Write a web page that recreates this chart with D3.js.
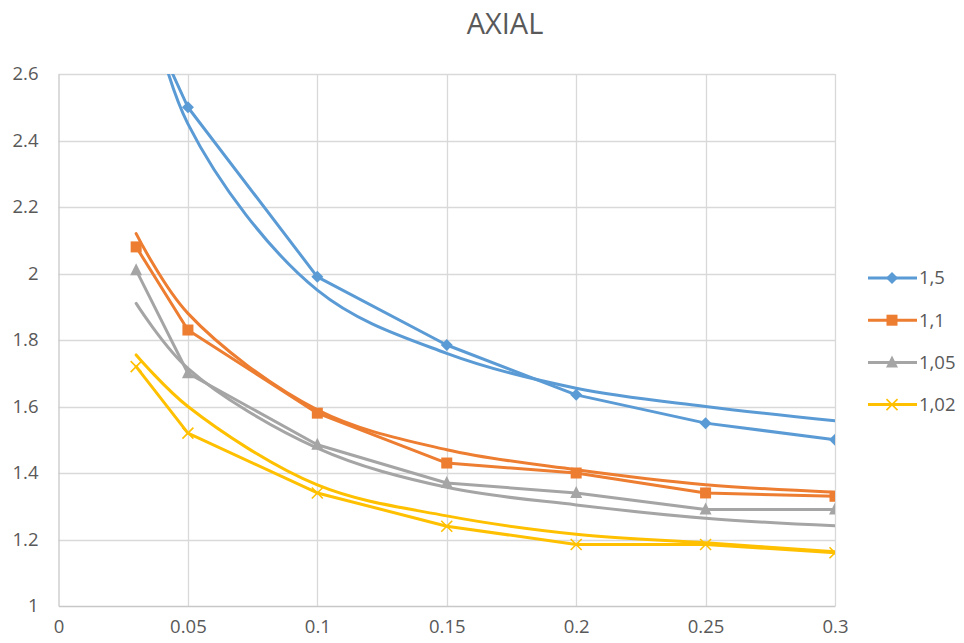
<!DOCTYPE html>
<html>
<head>
<meta charset="utf-8">
<script src="https://cdn.jsdelivr.net/npm/d3@7"></script>
<style>
  html, body { margin: 0; padding: 0; background: #fff; }
  svg { display: block; }
  text { font-family: "Open Sans", "Noto Sans", sans-serif; fill: #595959; }
</style>
</head>
<body>
<svg id="chart" width="964" height="643"></svg>
<script>
// Ratios measured at each abscissa
const xValues = [0.03, 0.05, 0.1, 0.15, 0.2, 0.25, 0.3];

// Measured series (with markers)
const series15  = [2.84, 2.50, 1.99, 1.785, 1.635, 1.55, 1.50];
const series11  = [2.08, 1.83, 1.58, 1.43, 1.40, 1.34, 1.33];
const series105 = [2.01, 1.70, 1.485, 1.37, 1.34, 1.29, 1.29];
const series102 = [1.72, 1.52, 1.34, 1.24, 1.185, 1.185, 1.16];

// Smoothed fitted curves (no markers)
const fit15  = [3.00, 2.45, 1.95, 1.76, 1.655, 1.60, 1.557];
const fit11  = [2.12, 1.88, 1.59, 1.47, 1.41, 1.365, 1.342];
const fit105 = [1.91, 1.715, 1.475, 1.357, 1.304, 1.264, 1.241];
const fit102 = [1.755, 1.60, 1.364, 1.271, 1.216, 1.19, 1.163];

const seriesNames = ["1,5", "1,1", "1,05", "1,02"];
const seriesColors = ["#5B9BD5", "#ED7D31", "#A5A5A5", "#FFC000"];
const seriesShapes = ["diamond", "square", "triangle", "cross"];
const measured = [series15, series11, series105, series102];
const fitted = [fit15, fit11, fit105, fit102];

const xTicks = [0, 0.05, 0.1, 0.15, 0.2, 0.25, 0.3];
const xTickLabels = ["0", "0.05", "0.1", "0.15", "0.2", "0.25", "0.3"];
const yTicks = [1, 1.2, 1.4, 1.6, 1.8, 2, 2.2, 2.4, 2.6];
const yTickLabels = ["1", "1.2", "1.4", "1.6", "1.8", "2", "2.2", "2.4", "2.6"];

const svg = d3.select("#chart");
const plot = { left: 58.5, right: 835, top: 74, bottom: 606 };

const x = d3.scaleLinear().domain([0, 0.3]).range([plot.left, plot.right]);
const y = d3.scaleLinear().domain([1, 2.6]).range([plot.bottom, plot.top]);

svg.append("rect").attr("width", 964).attr("height", 643).attr("fill", "#fff");

// Title
svg.append("text")
  .attr("x", 505).attr("y", 34)
  .attr("text-anchor", "middle")
  .style("font-size", "29px")
  .text("AXIAL");

// Gridlines
const grid = svg.append("g");
grid.selectAll("line.h").data(yTicks.slice(1)).join("line")
  .attr("x1", plot.left).attr("x2", plot.right)
  .attr("y1", d => Math.round(y(d)) + 0.5).attr("y2", d => Math.round(y(d)) + 0.5)
  .attr("stroke", "#D9D9D9").attr("stroke-width", 1.3);
grid.selectAll("line.v").data(xTicks.slice(1)).join("line")
  .attr("y1", plot.top).attr("y2", plot.bottom)
  .attr("x1", d => Math.round(x(d)) + 0.5).attr("x2", d => Math.round(x(d)) + 0.5)
  .attr("stroke", "#D9D9D9").attr("stroke-width", 1.3);

// Axes
const xAxis = d3.axisBottom(x).tickValues(xTicks)
  .tickFormat((d, i) => xTickLabels[i]).tickSize(0).tickPadding(14);
const yAxis = d3.axisLeft(y).tickValues(yTicks)
  .tickFormat((d, i) => yTickLabels[i]).tickSize(0).tickPadding(20);

const gx = svg.append("g").attr("transform", `translate(0,${plot.bottom})`).call(xAxis);
const gy = svg.append("g").attr("transform", `translate(${plot.left},0)`).call(yAxis);
[gx, gy].forEach(g => {
  g.select(".domain").attr("stroke", "#C8C8C8").attr("stroke-width", 1.3);
  g.selectAll("text").style("font-size", "18.5px").attr("fill", "#595959")
    .style("font-family", '"Open Sans", sans-serif');
});

// Clip to plot area
svg.append("defs").append("clipPath").attr("id", "plotClip")
  .append("rect")
  .attr("x", plot.left).attr("y", plot.top)
  .attr("width", plot.right - plot.left).attr("height", plot.bottom - plot.top);

const lines = svg.append("g").attr("clip-path", "url(#plotClip)");

const straight = d3.line().x(d => x(d[0])).y(d => y(d[1]));
const smooth = d3.line().x(d => x(d[0])).y(d => y(d[1])).curve(d3.curveCatmullRom.alpha(0.5));

fitted.forEach((vals, i) => {
  lines.append("path")
    .datum(xValues.map((xv, j) => [xv, vals[j]]))
    .attr("d", smooth)
    .attr("fill", "none")
    .attr("stroke", seriesColors[i])
    .attr("stroke-width", 3)
    .attr("stroke-linecap", "round");
});

function drawMarker(g, shape, cx, cy, color) {
  if (shape === "diamond") {
    const r = 6;
    g.append("path").attr("d", `M${cx},${cy - r}L${cx + r},${cy}L${cx},${cy + r}L${cx - r},${cy}Z`)
      .attr("fill", color);
  } else if (shape === "square") {
    const s = 11;
    g.append("rect").attr("x", cx - s / 2).attr("y", cy - s / 2).attr("width", s).attr("height", s)
      .attr("fill", color);
  } else if (shape === "triangle") {
    const s = 12;
    g.append("path").attr("d", `M${cx},${cy - s * 0.58}L${cx + s / 2},${cy + s * 0.42}L${cx - s / 2},${cy + s * 0.42}Z`)
      .attr("fill", color);
  } else if (shape === "cross") {
    const r = 5.5;
    g.append("path").attr("d", `M${cx - r},${cy - r}L${cx + r},${cy + r}M${cx - r},${cy + r}L${cx + r},${cy - r}`)
      .attr("stroke", color).attr("stroke-width", 1.6).attr("fill", "none");
  }
}

measured.forEach((vals, i) => {
  const pts = xValues.map((xv, j) => [xv, vals[j]]);
  lines.append("path")
    .datum(pts)
    .attr("d", straight)
    .attr("fill", "none")
    .attr("stroke", seriesColors[i])
    .attr("stroke-width", 3)
    .attr("stroke-linejoin", "round")
    .attr("stroke-linecap", "round");
  const mg = lines.append("g");
  pts.forEach(p => drawMarker(mg, seriesShapes[i], x(p[0]), y(p[1]), seriesColors[i]));
});

// Legend
const legend = svg.append("g");
seriesNames.forEach((name, i) => {
  const ly = 278 + i * 42.2;
  legend.append("line")
    .attr("x1", 868).attr("x2", 917).attr("y1", ly).attr("y2", ly)
    .attr("stroke", seriesColors[i]).attr("stroke-width", 3);
  drawMarker(legend, seriesShapes[i], 892, ly, seriesColors[i]);
  legend.append("text")
    .attr("x", 919).attr("y", ly)
    .attr("dy", "0.35em")
    .style("font-size", "18.5px")
    .text(name);
});
</script>
</body>
</html>
